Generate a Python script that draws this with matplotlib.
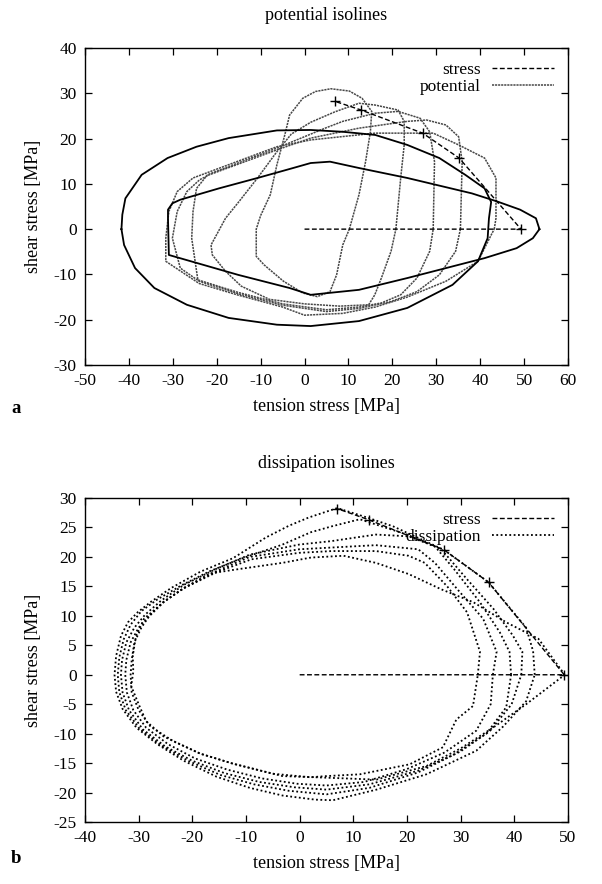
import matplotlib
matplotlib.use("Agg")
import matplotlib.pyplot as plt
from matplotlib.lines import Line2D

plt.rcParams["font.family"] = ["Liberation Serif", "DejaVu Serif"]
plt.rcParams["axes.unicode_minus"] = False

# stress path (shared by both panels)
stress_x = [0.0, 49.3, 35.2, 26.9, 12.9, 7.0]
stress_y = [0.0, 0.0, 15.7, 21.2, 26.3, 28.2]

# ---- panel a: potential isolines (closed curves, x/y in MPa) ----
pot_outer = [(-41.7, 0), (-41.5, 3.2), (-40.8, 6.8), (-37.1, 12), (-31.2, 15.7), (-24.6, 18.2),
             (-17.3, 20.1), (-6.3, 21.8), (1.4, 21.9), (8.7, 21.5), (16.1, 20.8), (23.4, 18.6),
             (30.7, 15.7), (36.6, 12), (41, 9), (42.5, 6), (42, 2.4), (41.7, -2), (39.5, -7.1),
             (33.7, -12.3), (23.4, -17.4), (12.4, -20.3), (1.4, -21.4), (-6.3, -21.1),
             (-17.3, -19.6), (-26.8, -16.7), (-34.2, -13), (-38.6, -8.6), (-41.1, -3.5), (-41.7, 0)]
pot_hex = [(53.5, 0), (52.7, 2.4), (49.1, 4.3), (43.9, 6.1), (38.1, 7.9), (23.4, 11.3),
           (12.4, 13.5), (5.8, 14.9), (1.4, 14.6), (-2.6, 13.5), (-10.7, 11.3), (-19.5, 9),
           (-28.3, 6.5), (-30.1, 5.7), (-31.1, 4.3), (-31.1, 2.4), (-30.9, -5.7), (-15.1, -10.1),
           (-3.4, -13), (1.4, -14.5), (12.4, -13.4), (23.4, -10.8), (32.2, -8.6), (41, -6.4),
           (48.3, -4.2), (52, -2), (53.5, 0)]
pot_g1 = [(10.2, 0), (12.4, 7.6), (13.9, 14.9), (15, 21.5), (15.3, 26), (13.1, 28.9), (10.2, 30.5),
          (6, 31), (2.5, 30.4), (-0.4, 28.9), (-3.4, 25.2), (-4.5, 20.8), (-6.3, 14.2), (-7.8, 7.6),
          (-10, 3), (-11, 0), (-11, -6), (-9.2, -7.9), (-4.8, -11.5), (-0.4, -14.1), (2.9, -14.9),
          (5.8, -13.8), (7.3, -10.1), (8.7, -3.5), (10.2, 0)]
pot_g2 = [(20.8, 0), (21.9, 11.3), (22.7, 18.6), (22.7, 23.8), (21.3, 26.3), (16.1, 27.4),
          (12.4, 27.8), (6.9, 25.9), (1.4, 23.6), (-3, 21), (-6.3, 17.1), (-10.7, 11.3), (-15, 6),
          (-18, 2.4), (-21.3, -3.5), (-21, -5.7), (-18, -9.3), (-14.4, -12.6), (-8, -15.5),
          (0, -16.5), (8, -17), (14.6, -16.7), (16, -14.5), (17.5, -10.8), (19.7, -4.9), (20.8, 0)]
pot_g3 = [(29.3, 0), (29.6, 14.9), (28.5, 21.5), (26.3, 24.5), (21.3, 26), (16.1, 25.6),
          (8.7, 23.8), (4.7, 22.3), (-6.3, 17.9), (-17.3, 13.8), (-22.1, 12), (-24.6, 9),
          (-25.4, 3.9), (-25.7, -2), (-24.3, -11.2), (-15, -14), (-5, -16.5), (5, -17.8),
          (12.4, -17.2), (17.5, -16.3), (21.9, -14.5), (25.6, -10.8), (28.5, -4.9), (29.3, 0)]
pot_g4 = [(35.5, 0), (35.9, 14.9), (35.1, 20.4), (32.2, 23), (27.8, 24.1), (23.4, 23.8),
          (12.4, 22.3), (1.4, 20.1), (-6.3, 17.5), (-21.7, 12), (-23.9, 10.9), (-26.8, 8.3),
          (-29, 3.9), (-30.1, -2), (-28.3, -8.6), (-24, -11.5), (-15, -14.3), (-5, -16.8),
          (5, -18.2), (12.4, -17.5), (19.7, -16), (25.6, -13.8), (30.7, -10.1), (34.4, -4.9), (35.5, 0)]
pot_g5 = [(43.2, 0), (43.6, 2.4), (43.6, 11.3), (41, 15.7), (35.1, 18.6), (29.3, 21.2),
          (16.1, 21.2), (1.4, 19.7), (-6.3, 18.2), (-25.4, 11.3), (-29, 8.3), (-30.9, 3.9),
          (-31.6, -2), (-31.6, -7.1), (-24, -12), (-15, -14.6), (-5, -17.2), (0, -19),
          (8.7, -18.6), (16.1, -17.2), (23.4, -15), (32.2, -11.5), (39.5, -7.1), (42.5, -1.3), (43.2, 0)]

# ---- panel b: dissipation isolines ----
dis_1 = [(43.8, 0), (43.5, 4), (42.2, 8), (35.2, 15.7), (26.9, 21.2), (17.4, 25.2), (12.9, 26.6),
         (7, 28.3), (1.7, 26.7), (-2, 25.3), (-6.3, 23.3), (-12.4, 19.8), (-18.5, 17.5), (-24, 14.7),
         (-27.7, 12.4), (-30.2, 10.6), (-32, 8.9), (-33.3, 6.6), (-34.2, 3.2), (-34.5, 0),
         (-34.2, -2.9), (-33, -5.8), (-30.4, -9), (-26.5, -11.8), (-21.6, -14.6), (-15.5, -17.3),
         (-9.3, -19.2), (-3.2, -20.5), (2.9, -21.2), (6.2, -21.3), (14.3, -19.5), (23.6, -16.9),
         (32.9, -12.9), (37.9, -8.8), (42.2, -4.5), (43.8, 0)]
dis_2 = [(41.3, 0), (41.5, 3.9), (39.7, 6.7), (36.1, 11.2), (31.2, 16.2), (26.4, 21.3), (20, 23.8),
         (11.2, 26.4), (6, 25.2), (2.1, 24.2), (-3.2, 22.1), (-10.6, 19.8), (-16.7, 17.6), (-22, 15.2),
         (-26.5, 12.8), (-29.5, 10.8), (-31.5, 8.5), (-32.8, 6), (-33.6, 3), (-33.9, 0), (-33.6, -3),
         (-32.4, -6), (-29.8, -9.2), (-25.8, -12), (-20.8, -14.6), (-14.8, -17), (-8.5, -18.6),
         (-2, -19.7), (5, -20.3), (13, -19.2), (22, -16.6), (30, -13), (35.5, -9.5), (39.5, -5), (41.3, 0)]
dis_3 = [(39.4, 0), (39.1, 3.9), (37.3, 7.2), (33.6, 12.3), (28.8, 17.9), (25.2, 21.8), (20.3, 23.5),
         (14.2, 23.8), (6, 22.7), (-0.1, 22.1), (-9.3, 20.4), (-15.5, 18), (-21.5, 15.3), (-25.8, 12.6),
         (-28.8, 10.2), (-30.8, 8), (-32.3, 5.5), (-33.1, 2.5), (-33.3, 0), (-33, -3), (-31.8, -6),
         (-29.2, -9.3), (-25, -12.2), (-20, -14.6), (-14, -16.7), (-7.5, -18.2), (-1, -19.1), (5, -19.5),
         (13, -18.6), (22, -16.3), (28.6, -13.6), (34.8, -10), (38.5, -5.5), (39.4, 0)]
dis_4 = [(36, 0), (36.7, 3.9), (34.2, 9.5), (29.4, 14.5), (25.2, 19), (22.1, 21.3), (14.2, 22),
         (6, 21.6), (-0.1, 21.3), (-9.3, 20), (-15.5, 17.6), (-21.6, 14.7), (-25.3, 12.4), (-28, 10),
         (-30, 8), (-31.5, 5.5), (-32.3, 2.5), (-32.5, 0), (-32.2, -3), (-31, -6), (-28.6, -9),
         (-24.5, -11.8), (-19.5, -14.2), (-13.5, -16.1), (-7, -17.6), (-0.5, -18.5), (5, -18.8),
         (12, -18.2), (20, -16), (27, -13.2), (32.9, -9.5), (35.6, -5), (36, 0)]
dis_5 = [(33.2, 0), (33.6, 3.9), (31.2, 10.6), (27.5, 15), (23.3, 19), (20.3, 20.2), (14.2, 21),
         (6, 21), (-0.1, 20.7), (-9, 19.6), (-15.5, 17.4), (-21.6, 14.7), (-25.3, 12.4), (-28, 10),
         (-29.5, 8), (-30.8, 5.5), (-31.3, 2.5), (-31.5, 0), (-31.3, -3), (-30, -6), (-27.8, -8.8),
         (-23.5, -11.3), (-18.5, -13.4), (-12.4, -15.1), (-5, -16.8), (2, -17.4), (5, -17.2),
         (11.2, -16.9), (20.5, -15.2), (26.7, -12.3), (29.2, -7.6), (32.3, -5.3), (33.2, 0)]
dis_6 = [(49.4, 0), (44.5, 6.1), (38.5, 8.9), (32.4, 12.3), (26.4, 14.5), (20.3, 17.1), (14.2, 19),
         (8.2, 20.2), (2.1, 19.9), (-3.2, 19), (-12.4, 17.8), (-16.7, 17.2), (-21.6, 14.7),
         (-25.3, 12.4), (-29, 9.5), (-30.5, 6.6), (-31.1, 3.2), (-31, 0.5), (-31.4, -1.9), (-30, -5),
         (-28.6, -7.9), (-25.3, -10.5), (-18.5, -13.4), (-12.4, -15.1), (-3.2, -17.2), (2.9, -17.4),
         (14.3, -17.8), (23.6, -15.5), (30, -12.5), (36, -9), (42.2, -5), (49.4, 0)]

pot_dark = [pot_outer, pot_hex]
pot_gray = [pot_g1, pot_g2, pot_g3, pot_g4, pot_g5]
dis_curves = [dis_1, dis_2, dis_3, dis_4, dis_5, dis_6]

FS = 12.5
stress_style = dict(color="black", lw=1.0, ls=(0, (3.5, 1.8)))
gray_style = dict(color="0.28", lw=1.1, ls=(0, (1.4, 0.6)))
dot_style = dict(color="black", lw=1.3, ls=(0, (1.0, 1.4)))


def xy(pts):
    return [p[0] for p in pts], [p[1] for p in pts]


def frame(ax, xlim, ylim, xt, yt):
    ax.set_xlim(*xlim)
    ax.set_ylim(*ylim)
    ax.set_xticks(xt)
    ax.set_yticks(yt)
    ax.tick_params(direction="in", top=True, right=True, length=5, width=0.9, labelsize=FS, pad=6)
    for s in ax.spines.values():
        s.set_linewidth(1.0)
    ax.set_xlabel("tension stress [MPa]", fontsize=FS + 0.5, labelpad=6)
    ax.set_ylabel("shear stress [MPa]", fontsize=FS + 0.5, labelpad=8)


fig = plt.figure(figsize=(6.02, 8.84), dpi=100)
ax1 = fig.add_axes([0.1412, 0.5871, 0.8023, 0.3586])
ax2 = fig.add_axes([0.1412, 0.0701, 0.8023, 0.3665])

# panel a
for c in pot_gray:
    ax1.plot(*xy(c), **gray_style)
for c in pot_dark:
    ax1.plot(*xy(c), color="black", lw=1.3)
ax1.plot(stress_x, stress_y, marker="+", ms=7, mew=1.0, markevery=slice(1, None), **stress_style)
frame(ax1, (-50, 60), (-30, 40), range(-50, 61, 10), range(-30, 41, 10))
h1 = [Line2D([], [], **stress_style), Line2D([], [], **gray_style)]
ax1.legend(h1, ["stress", "potential"], loc="upper right", frameon=False, markerfirst=False,
           handlelength=3.6, fontsize=FS, labelspacing=0.05, borderaxespad=0.4, handletextpad=0.6)

# panel b
for c in dis_curves:
    ax2.plot(*xy(c), **dot_style)
ax2.plot(stress_x, stress_y, marker="+", ms=7, mew=1.0, markevery=slice(1, None), **stress_style)
frame(ax2, (-40, 50), (-25, 30), range(-40, 51, 10), range(-25, 31, 5))
h2 = [Line2D([], [], **stress_style), Line2D([], [], **dot_style)]
ax2.legend(h2, ["stress", "dissipation"], loc="upper right", frameon=False, markerfirst=False,
           handlelength=3.6, fontsize=FS, labelspacing=0.05, borderaxespad=0.4, handletextpad=0.6)

fig.text(0.542, 0.983, "potential isolines", ha="center", va="center", fontsize=FS + 0.5)
fig.text(0.542, 0.476, "dissipation isolines", ha="center", va="center", fontsize=FS + 0.5)
fig.text(0.026, 0.538, "a", fontsize=FS + 1, fontweight="bold", ha="center", va="center")
fig.text(0.026, 0.029, "b", fontsize=FS + 1, fontweight="bold", ha="center", va="center")

fig.savefig("out.png", dpi=100)
plt.close(fig)
